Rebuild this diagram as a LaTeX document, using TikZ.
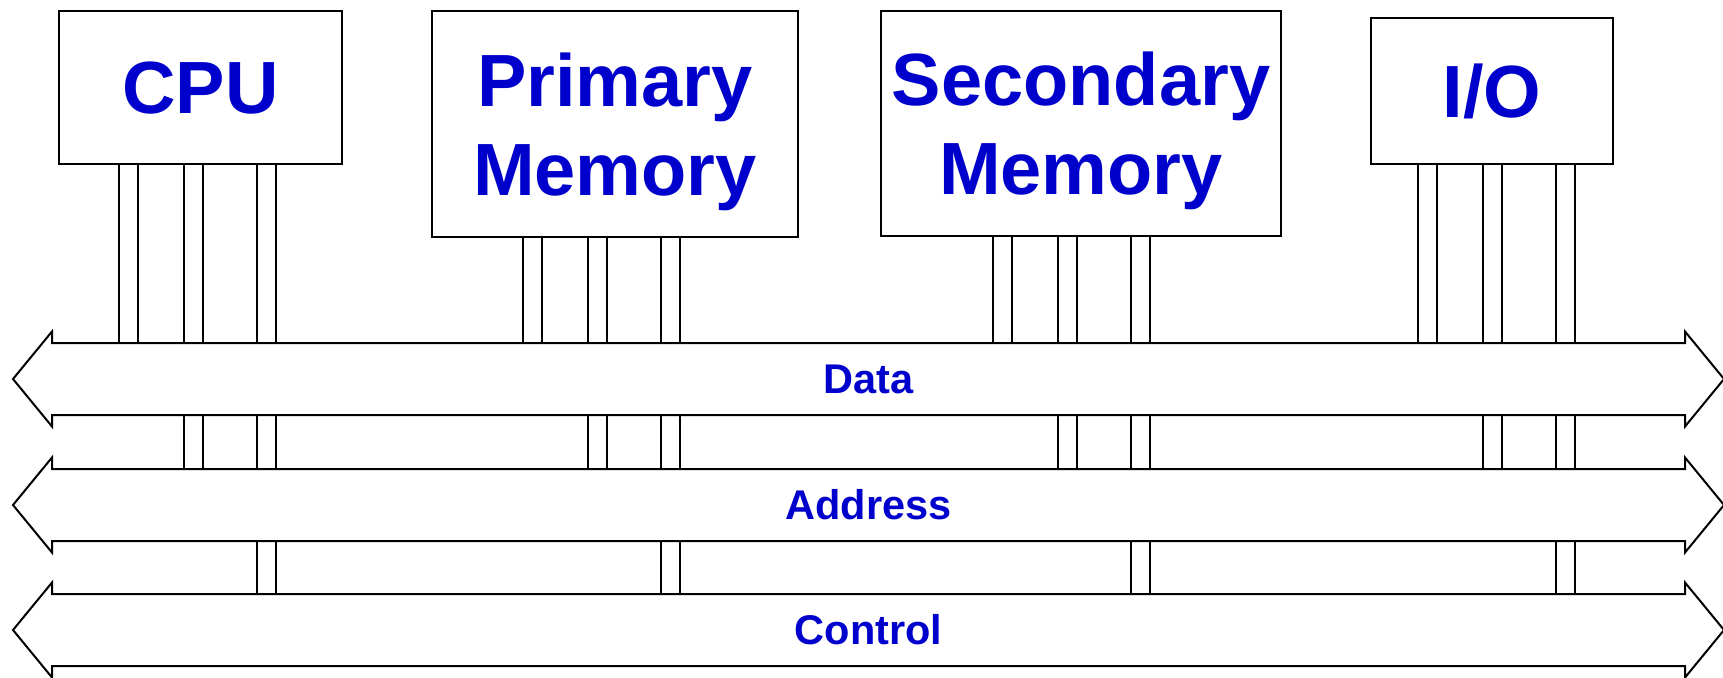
\documentclass[tikz,border=0pt]{standalone}
\usepackage{fontspec}
\setmainfont{Liberation Sans}
\definecolor{labelblue}{RGB}{0,0,204}

\tikzset{
  unitbox/.style={draw, fill=white, align=center, text=labelblue,
    font=\fontsize{74}{89}\selectfont\bfseries, inner sep=0pt, text depth=0pt},
  bus/.style={draw, fill=white, line join=miter},
  buslabel/.style={text=labelblue, font=\fontsize{41.5}{50}\selectfont\bfseries}
}

\begin{document}
\begin{tikzpicture}[x=1pt, y=-1pt, line width=2pt]
  \useasboundingbox (0,0) rectangle (1723,677);

  % units
  \node[unitbox, minimum width=283pt, minimum height=153pt] (cpu)       at (200.5,87.5) {CPU};
  \node[unitbox, minimum width=366pt, minimum height=226pt] (primary)   at (615,124)    {Primary\\Memory};
  \node[unitbox, minimum width=400pt, minimum height=225pt] (secondary) at (1081,123.5) {Secondary\\Memory};
  \node[unitbox, minimum width=242pt, minimum height=146pt] (io)        at (1492,91)    {I/O};

  % top edge of each bus
  \coordinate (data-top)    at (0,343);
  \coordinate (address-top) at (0,469);
  \coordinate (control-top) at (0,594);

  % wire pairs from every unit down to its bus
  \foreach \u/\s in {cpu/119, primary/523, secondary/993, io/1418} {
    \foreach \o/\bus in {0/data, 65/address, 138/control} {
      \pgfmathsetmacro\xa{\s+\o}
      \pgfmathsetmacro\xb{\s+\o+19}
      \draw (\xa,0 |- \u.south) -- (\xa,0 |- \bus-top);
      \draw (\xb,0 |- \u.south) -- (\xb,0 |- \bus-top);
    }
  }

  % the three buses, drawn over the wires
  \foreach \bus/\t/\txt in {data/343/Data, address/469/Address, control/594/Control} {
    \draw[bus] (13,\t+36) -- (52,\t-11.5) -- (52,\t) -- (1685,\t) -- (1685,\t-11.5)
      -- (1724,\t+36) -- (1685,\t+83.5) -- (1685,\t+72) -- (52,\t+72)
      -- (52,\t+83.5) -- cycle;
    \node[buslabel] (\bus) at (868.5,\t+36) {\txt};
  }
\end{tikzpicture}
\end{document}
